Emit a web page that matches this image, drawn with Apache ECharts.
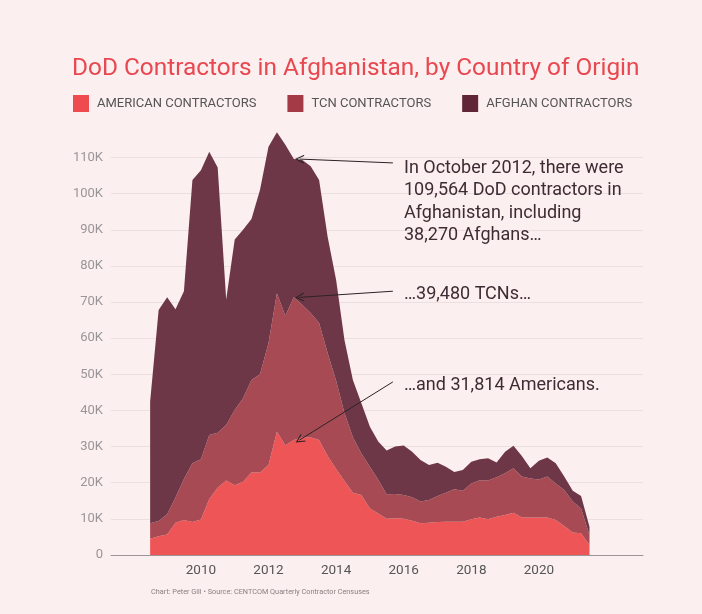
<!DOCTYPE html>
<html>
<head>
<meta charset="utf-8">
<script src="https://cdn.jsdelivr.net/npm/echarts@6/dist/echarts.min.js"></script>
<style>
  html, body { margin: 0; padding: 0; background: #fcefef; }
  #chart { width: 702px; height: 614px; }
</style>
</head>
<body>
<div id="chart"></div>
<script>
// Quarter-end census dates (year-month)
const quarters = [
  '2008-06','2008-09','2008-12',
  '2009-03','2009-06','2009-09','2009-12',
  '2010-03','2010-06','2010-09','2010-12',
  '2011-03','2011-06','2011-09','2011-12',
  '2012-03','2012-06','2012-09','2012-12',
  '2013-03','2013-06','2013-09','2013-12',
  '2014-03','2014-06','2014-09','2014-12',
  '2015-03','2015-06','2015-09','2015-12',
  '2016-03','2016-06','2016-09','2016-12',
  '2017-03','2017-06','2017-09','2017-12',
  '2018-03','2018-06','2018-09','2018-12',
  '2019-03','2019-06','2019-09','2019-12',
  '2020-03','2020-06','2020-09','2020-12',
  '2021-03','2021-06'
];
const american = [4500,5200,5700,8900,9700,9100,9800,15500,18600,20600,19300,20300,22800,22800,24900,34100,30400,31814,32500,32500,31800,27400,23800,20500,17200,16600,12900,11500,10000,10200,10000,9500,8800,8900,9100,9200,9200,9200,9900,10400,9900,10600,11100,11700,10400,10400,10400,10400,9700,8000,6200,6000,2800];
const tcn = [4300,4200,5600,7000,11300,16300,16700,17700,15200,15400,20800,23100,25600,27200,33700,38300,35800,39480,36700,34500,32400,28500,24400,18800,15400,11500,11500,9300,6800,6700,6600,6500,6000,6300,7200,8000,9000,8600,9900,10300,10700,10900,11500,12300,11300,10800,10500,11300,10100,10000,8600,6900,2700];
const afghan = [33700,58400,60000,52100,52000,78400,80000,78400,73400,34700,47200,46600,44600,51000,54400,44600,47300,38270,40100,40600,39600,32200,27900,20200,15800,13900,11100,10600,12100,13100,13700,12600,11500,9700,9200,7200,4800,5700,6000,5800,6200,4100,6000,6200,5700,2800,5200,5300,5600,3700,3000,3400,2300];
const seriesNames = ['AMERICAN CONTRACTORS', 'TCN CONTRACTORS', 'AFGHAN CONTRACTORS'];
const xLabelYears = [2010, 2012, 2014, 2016, 2018, 2020];
const yTicks = [0,10000,20000,30000,40000,50000,60000,70000,80000,90000,100000,110000];
const annotationLines = [
  ['In October 2012, there were', '109,564 DoD contractors in', 'Afghanistan, including', '38,270 Afghans…'],
  ['…39,480 TCNs…'],
  ['…and 31,814 Americans.']
];
const annotationTargets = [109564, 31814 + 39480, 31814];

function quarterTs(q) {
  const [y, m] = q.split('-').map(Number);
  return Date.UTC(y, m, 1); // end of quarter month
}
function decYearTs(d) {
  const y = Math.floor(d);
  const s = Date.UTC(y, 0, 1), e = Date.UTC(y + 1, 0, 1);
  return s + (d - y) * (e - s);
}
const X_MIN = 2007.34, X_MAX = 2023.08;
const xs = quarters.map(quarterTs);
const annotX = Date.UTC(2012, 11, 1);
const arrowStartX = decYearTs(2015.68);
const arrowStartY = [108500, 73000, 47900];

const colors = ['#ee5557', '#a84a53', '#6e3748'];
const legendColors = ['#ee4a4f', '#a43a45', '#602638'];
const chevron = 'path://M0,10 L5,0 L10,10 L8.7,10 L5,2.6 L1.3,10 Z';

const FONT = 'Roboto, "Noto Sans", sans-serif';
const chart = echarts.init(document.getElementById('chart'), null, { renderer: 'canvas' });

const dataSets = [american, tcn, afghan];
const series = dataSets.map((arr, k) => {
  const s = {
    name: seriesNames[k],
    type: 'line',
    xAxisIndex: 0,
    stack: 'total',
    clip: false,
    showSymbol: false,
    symbol: 'none',
    smooth: false,
    lineStyle: { width: 0 },
    itemStyle: { color: colors[k] },
    areaStyle: { color: colors[k], opacity: 1 },
    emphasis: { disabled: true },
    data: xs.map((x, i) => [x, arr[i]])
  };
  if (k === 2) {
    s.markLine = {
      silent: true,
      symbol: ['none', chevron],
      symbolSize: [9, 9],
      label: { show: false },
      lineStyle: { color: '#2b2326', width: 1, type: 'solid', opacity: 1 },
      emphasis: { disabled: true },
      animation: false,
      data: annotationTargets.map((v, j) => [
        { coord: [arrowStartX, arrowStartY[j]] },
        { coord: [annotX, v] }
      ])
    };
  }
  return s;
});

const graphics = [];
const textTops = [159, 285.5, 376];
annotationLines.forEach((lines, j) => {
  lines.forEach((t, li) => {
    graphics.push({
      type: 'text', left: 404, top: textTops[j] + li * 22.5, z: 100,
      style: { text: t, fill: '#3e2c34', font: '18px ' + FONT }
    });
  });
});
graphics.push({
  type: 'text', left: 151, top: 588.5, z: 100,
  style: { text: 'Chart: Peter Gill • Source: CENTCOM Quarterly Contractor Censuses', fill: '#8a8283', font: '7.3px ' + FONT }
});

chart.setOption({
  backgroundColor: '#fcefef',
  animation: false,
  title: {
    text: 'DoD Contractors in Afghanistan, by Country of Origin',
    left: 72,
    top: 57,
    padding: 0,
    textStyle: { color: '#e84850', fontSize: 24.4, fontWeight: 'normal', fontFamily: FONT }
  },
  legend: {
    left: 73, top: 95,
    padding: 0,
    icon: 'rect',
    itemWidth: 16, itemHeight: 17, itemGap: 31,
    selectedMode: false,
    textStyle: { color: '#555', fontSize: 13, fontFamily: FONT, padding: [0, 0, 0, 3] },
    data: seriesNames.map((n, k) => ({ name: n, itemStyle: { color: legendColors[k] } }))
  },
  grid: { left: 111, right: 59, top: 157.5, bottom: 59, containLabel: false },
  xAxis: [{
    type: 'time',
    min: decYearTs(X_MIN),
    max: decYearTs(X_MAX),
    axisLine: { show: true, lineStyle: { color: '#9c9597', width: 1 } },
    axisTick: { show: false },
    splitLine: { show: false },
    axisLabel: { show: false }
  }, {
    type: 'value',
    position: 'bottom',
    min: X_MIN,
    max: X_MAX,
    axisLine: { show: false },
    axisTick: { show: false },
    splitLine: { show: false },
    axisLabel: {
      customValues: xLabelYears,
      formatter: v => String(v),
      color: '#555', fontSize: 13.5, fontFamily: FONT, margin: 9, hideOverlap: false
    }
  }],
  yAxis: {
    type: 'value',
    min: 0, max: 110000, interval: 10000,
    axisLine: { show: false },
    axisTick: { show: false },
    splitLine: { show: true, lineStyle: { color: '#ebdfe0', width: 1 } },
    axisLabel: {
      color: '#9a9596', fontSize: 13, fontFamily: FONT, margin: 8,
      formatter: v => yTicks.includes(v) ? (v === 0 ? '0' : (v / 1000) + 'K') : ''
    }
  },
  series: series,
  graphic: graphics
});
</script>
</body>
</html>
